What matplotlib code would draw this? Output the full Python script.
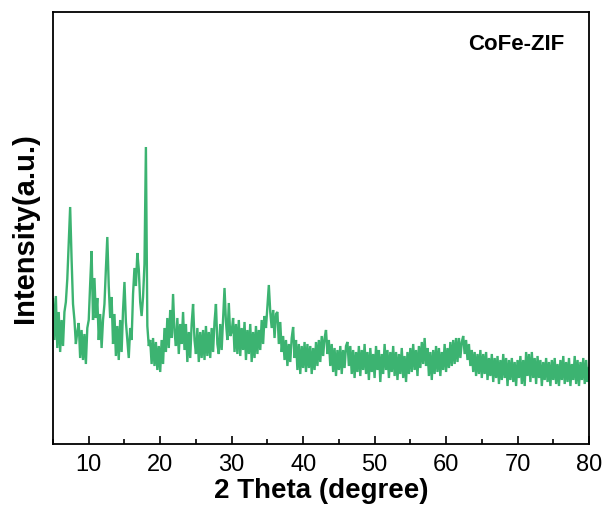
import numpy as np
import matplotlib
matplotlib.use("Agg")
import matplotlib.pyplot as plt
from matplotlib.ticker import MultipleLocator

# Intensity (a.u.) sampled every 0.2 degree from 5 to 80 (2 Theta)
intensity = [
    145, 104, 148, 96, 132, 92, 124, 98, 132, 142,        # 5.0-6.8
    165, 200, 237, 185, 140, 124, 100, 112, 121, 86,      # 7.0-8.8
    114, 84, 110, 80, 116, 124, 160, 193, 124, 166,       # 9.0-10.8
    126, 146, 104, 130, 96, 124, 140, 175, 207, 158,      # 11.0-12.8
    126, 147, 100, 130, 88, 118, 84, 124, 92, 134,        # 13.0-14.8
    162, 122, 104, 86, 116, 104, 150, 176, 158, 191,      # 15.0-16.8
    175, 142, 128, 147, 180, 297, 118, 98, 104, 80,       # 17.0-18.8
    106, 78, 102, 74, 98, 72, 104, 80, 116, 92,           # 19.0-20.8
    126, 96, 134, 106, 150, 112, 98, 126, 90, 120,        # 21.0-22.8
    100, 132, 94, 120, 82, 112, 86, 120, 140, 104,        # 23.0-24.8
    90, 116, 82, 112, 86, 114, 84, 118, 88, 112,          # 25.0-26.8
    86, 116, 92, 122, 140, 100, 90, 120, 94, 126,         # 27.0-28.8
    156, 122, 104, 141, 108, 112, 126, 92, 120, 90,       # 29.0-30.8
    124, 88, 116, 94, 122, 84, 114, 90, 120, 82,          # 31.0-32.8
    112, 86, 118, 90, 114, 94, 124, 100, 128, 116,        # 33.0-34.8
    138, 159, 132, 116, 134, 106, 130, 132, 100, 122,     # 35.0-36.8
    92, 108, 84, 104, 78, 100, 82, 106, 117, 86,          # 37.0-38.8
    104, 74, 100, 70, 98, 76, 102, 72, 100, 76,           # 39.0-40.8
    98, 70, 96, 74, 102, 78, 104, 82, 108, 88,            # 41.0-42.8
    106, 114, 90, 104, 78, 100, 72, 96, 68, 94,           # 43.0-44.8
    74, 98, 70, 94, 76, 98, 102, 78, 98, 70,              # 45.0-46.8
    94, 66, 92, 72, 98, 68, 94, 74, 100, 70,              # 47.0-48.8
    92, 64, 96, 72, 90, 66, 98, 74, 94, 62,               # 49.0-50.8
    90, 70, 100, 74, 94, 66, 92, 72, 98, 68,              # 51.0-52.8
    92, 64, 90, 70, 96, 66, 88, 62, 92, 70,               # 53.0-54.8
    96, 72, 100, 74, 94, 68, 98, 76, 102, 80,             # 55.0-56.8
    106, 78, 96, 68, 92, 64, 94, 70, 98, 72,              # 57.0-58.8
    96, 68, 92, 74, 100, 72, 96, 76, 102, 78,             # 59.0-60.8
    104, 80, 106, 82, 106, 86, 102, 108, 90, 104,         # 61.0-62.8
    84, 100, 78, 94, 72, 92, 68, 90, 70, 94,              # 63.0-64.8
    66, 90, 70, 92, 64, 86, 68, 90, 62, 86,               # 65.0-66.8
    66, 88, 60, 84, 64, 90, 66, 86, 58, 84,               # 67.0-68.8
    64, 86, 62, 82, 58, 84, 66, 88, 60, 84,               # 69.0-70.8
    58, 92, 68, 90, 62, 92, 66, 86, 60, 88,               # 71.0-72.8
    66, 84, 58, 82, 64, 86, 62, 82, 58, 84,               # 73.0-74.8
    64, 86, 60, 80, 58, 84, 64, 88, 60, 82,               # 75.0-76.8
    62, 86, 58, 80, 64, 88, 60, 84, 58, 82,               # 77.0-78.8
    64, 86, 60, 84, 62, 76,                               # 79.0-80.0
]
two_theta = np.linspace(5, 80, len(intensity))

x_ticks = [10, 20, 30, 40, 50, 60, 70, 80]
sample_label = "CoFe-ZIF"

plt.rcParams['font.family'] = ['Liberation Sans', 'DejaVu Sans']

fig = plt.figure(figsize=(6.07, 5.15), dpi=100)
ax = fig.add_axes([53/607, 1-444/515, (589-53)/607, (444-12)/515])

ax.plot(two_theta, intensity, color='#3cb371', lw=1.7, solid_joinstyle='miter')

ax.set_xlim(5, 80)
ax.set_ylim(0, 432)
ax.set_xticks(x_ticks)
ax.xaxis.set_minor_locator(MultipleLocator(5))
ax.set_yticks([])
ax.tick_params(axis='x', which='major', direction='in', length=6, width=1.2,
               labelsize=17, pad=7)
ax.tick_params(axis='x', which='minor', direction='in', length=3.5, width=1.2)
ax.tick_params(top=False, right=False)
for s in ax.spines.values():
    s.set_linewidth(1.3)

ax.set_xlabel('2 Theta (degree)', fontsize=20, fontweight='bold', labelpad=2)
ax.set_ylabel('Intensity(a.u.)', fontsize=21, fontweight='bold', labelpad=10)

ax.text(0.774, 0.924, sample_label, transform=ax.transAxes, fontsize=16,
        fontweight='bold', ha='left', va='center')

fig.savefig('out.png', dpi=100)
